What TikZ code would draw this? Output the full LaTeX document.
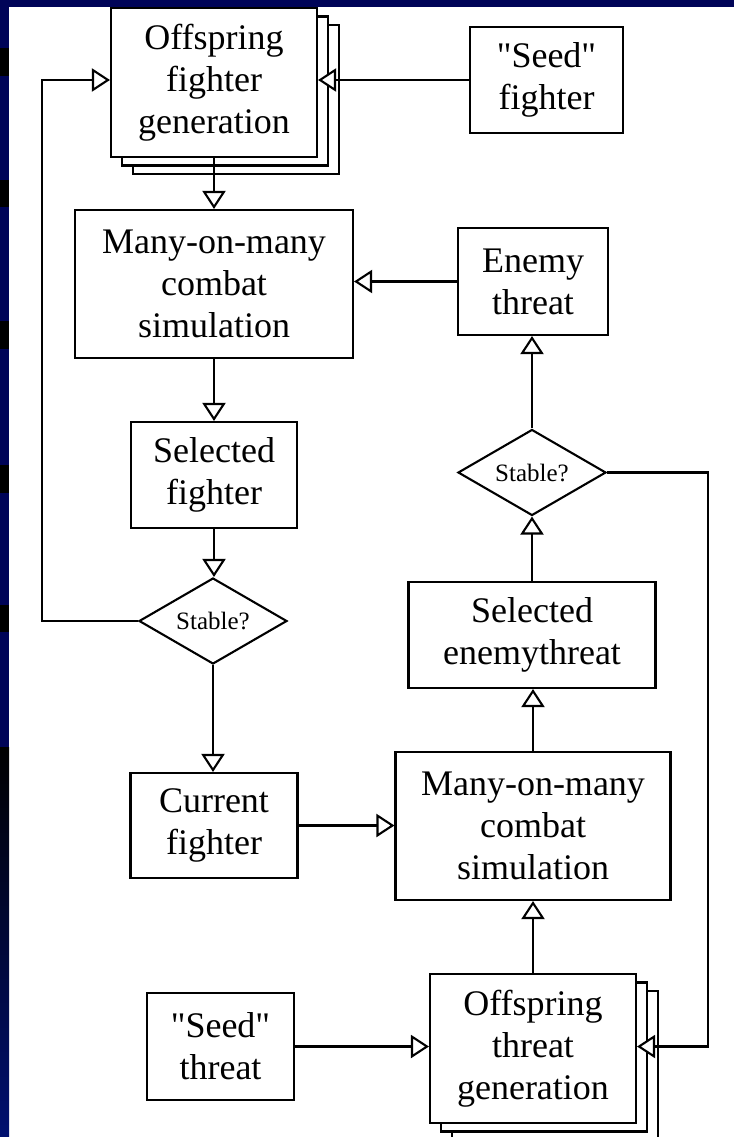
\documentclass[tikz,border=0pt]{standalone}
\usepackage{fontspec}
\setmainfont{Liberation Serif}[Ligatures=TeXOff]
\usetikzlibrary{arrows.meta,shapes.geometric}
\definecolor{navy}{RGB}{0,4,88}
\definecolor{navybot}{RGB}{0,16,112}
\begin{document}
\begin{tikzpicture}[x=1pt,y=1pt,
  box/.style={draw, line width=2.1pt, fill=white, inner sep=0pt, align=center,
    font=\fontsize{36pt}{42pt}\selectfont},
  dia/.style={draw, diamond, line width=2.1pt, fill=white, inner sep=0pt, aspect=1.72,
    minimum width=148pt, minimum height=86pt, font=\fontsize{25pt}{30pt}\selectfont},
  arr/.style={line width=2.1pt, -{Triangle[length=18pt,width=23pt,fill=white]}},
  bignode/.style={box, minimum width=206pt, minimum height=149pt},
]
\useasboundingbox (0,0) rectangle (734,-1137);
\clip (0,0) rectangle (734,-1137);
% background
\fill[white] (0,0) rectangle (734,-1137);
\fill[navy] (0,0) rectangle (734,-7);
\fill[navy] (0,0) rectangle (9,-1137);
\foreach \a/\b in {48/76,180/207,321/349,465/493,605/632}
  \fill[black] (0,-\a) rectangle (9,-\b);
\shade[top color=black, bottom color=navybot] (0,-747) rectangle (9,-1137);

% left column
\node[bignode] (ofgb) at (236,-99.5) {};
\node[bignode] (ofga) at (225,-91) {};
\node[bignode] (ofg) at (214,-82.5) {Offspring\\fighter\\generation};
\node[box, minimum width=153pt, minimum height=106pt] (seedf) at (546.5,-80) {"Seed"\\fighter};
\node[box, minimum width=278pt, minimum height=148pt] (mom1) at (214,-284) {Many-on-many\\combat\\simulation};
\node[box, minimum width=150pt, minimum height=107pt] (enemy) at (533,-281.5) {Enemy\\threat};
\node[box, minimum width=166pt, minimum height=106pt] (self) at (214,-475) {Selected\\fighter};
\node[dia] (d1) at (213,-621) {Stable?};
\node[box, minimum width=167pt, minimum height=105pt] (curf) at (214,-825.5) {Current\\fighter};
% right column
\node[dia] (d2) at (532,-472.5) {Stable?};
\node[box, minimum width=247pt, minimum height=106pt] (selet) at (532,-635) {Selected\\enemythreat};
\node[box, minimum width=275pt, minimum height=148pt] (mom2) at (533,-826) {Many-on-many\\combat\\simulation};
\node[box, minimum width=147pt, minimum height=107pt] (seedt) at (220.5,-1046.5) {"Seed"\\threat};
\node[bignode] (oftb) at (555,-1065.5) {};
\node[bignode] (ofta) at (544,-1057) {};
\node[bignode] (oft) at (533,-1048.5) {Offspring\\threat\\generation};

% connectors
\coordinate (lp) at (42,-80);
\coordinate (rp) at (708,-1046.5);
\draw[arr] (seedf.west) -- (seedf.west -| ofg.east);
\draw[arr] (d1.west) -| (lp) -- (lp -| ofg.west);
\draw[arr] (ofg.south) -- (mom1.north);
\draw[arr] (enemy.west) -- (enemy.west -| mom1.east);
\draw[arr] (mom1.south) -- (self.north);
\draw[arr] (self.south) -- (self.south |- d1.north);
\draw[arr] (d1.south) -- (d1.south |- curf.north);
\draw[arr] (curf.east) -- (curf.east -| mom2.west);
\draw[arr] (mom2.north) -- (mom2.north |- selet.south);
\draw[arr] (selet.north) -- (selet.north |- d2.south);
\draw[arr] (d2.north) -- (d2.north |- enemy.south);
\draw[arr] (d2.east) -| (rp) -- (rp -| oft.east);
\draw[arr] (oft.north) -- (oft.north |- mom2.south);
\draw[arr] (seedt.east) -- (seedt.east -| oft.west);
\end{tikzpicture}
\end{document}
